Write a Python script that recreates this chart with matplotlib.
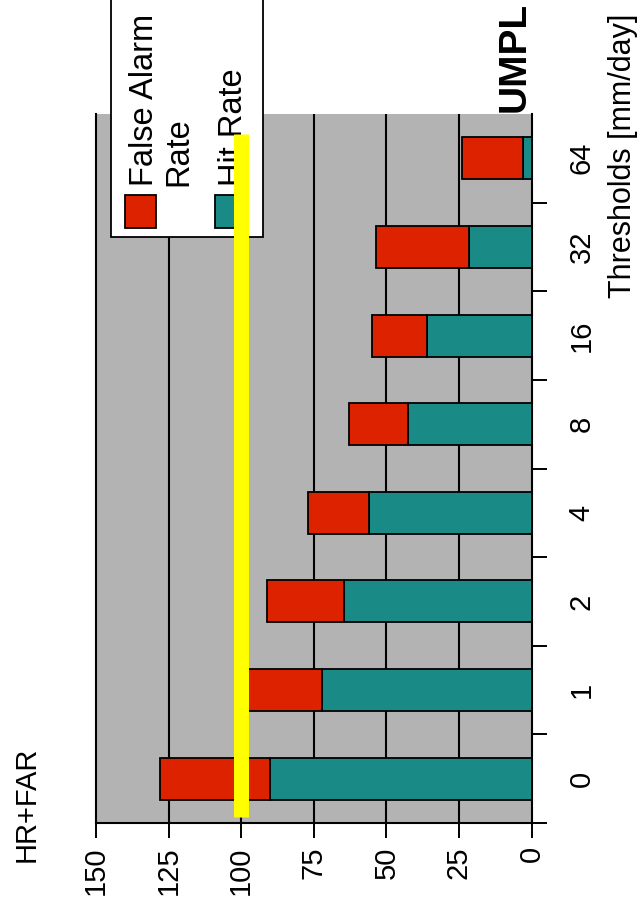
import matplotlib
matplotlib.use("Agg")
import matplotlib.pyplot as plt
from matplotlib.patches import Rectangle
import numpy as np

# Precipitation thresholds and skill scores (percent)
thresholds = ["0", "1", "2", "4", "8", "16", "32", "64"]
hit_rate = [90, 72, 64.5, 56, 42.5, 36, 21.5, 3]
false_alarm_rate = [38, 26, 26.5, 21, 20.5, 19, 32, 21]
reference_level = 100

value_ticks = [0, 25, 50, 75, 100, 125, 150]

RED = "#DD2200"
TEAL = "#1A8A87"
GREY = "#B3B3B3"
FONT = "Liberation Sans"

plt.rcParams["font.family"] = [FONT, "DejaVu Sans"]

fig = plt.figure(figsize=(6.43, 9.17), dpi=100)
ax = fig.add_axes([96 / 643, 1 - 823 / 917, 435.5 / 643, 709 / 917])
ax.set_facecolor(GREY)

pos = np.arange(len(thresholds))
bar_h = 0.475
ax.barh(pos, hit_rate, height=bar_h, color=TEAL, edgecolor="black",
        linewidth=1.3, zorder=3)
ax.barh(pos, false_alarm_rate, left=hit_rate, height=bar_h, color=RED,
        edgecolor="black", linewidth=1.3, zorder=3)

ax.set_xlim(150, 0)
ax.set_ylim(-0.5, len(thresholds) - 0.5)

# value axis along the bottom, labels turned upright
ax.set_xticks(value_ticks)
ax.set_xticklabels([str(v) for v in value_ticks], rotation=90, fontsize=21)
ax.tick_params(axis="x", direction="out", length=10.8, width=1.4, pad=6)
for v in value_ticks[1:-1]:
    ax.axvline(v, color="black", linewidth=1.5, zorder=1)

# threshold axis on the right, boundary ticks between categories
ax.yaxis.tick_right()
ax.set_yticks(pos)
ax.set_yticklabels(thresholds, rotation=90, fontsize=21, va="center")
ax.set_yticks(np.arange(-0.5, len(thresholds) - 1, 1.0), minor=True)
ax.tick_params(axis="y", which="major", length=0, pad=26)
ax.tick_params(axis="y", which="minor", direction="out", length=10.8, width=1.4)

for side in ["left", "right", "bottom"]:
    ax.spines[side].set_linewidth(1.5)
    ax.spines[side].set_color("black")
ax.spines["top"].set_visible(False)

def to_ax(px, py):
    return (px - 96) / 435.5, (823 - py) / 709

# legend box drawn above the plot
x0, y0 = to_ax(111, 237)
x1, y1 = to_ax(262.7, -2)
ax.add_patch(Rectangle((x0, y0), x1 - x0, y1 - y0, transform=ax.transAxes,
                       facecolor="white", edgecolor="black", linewidth=1.3,
                       clip_on=False, zorder=5))
for (hx, col) in [(125, RED), (215, TEAL)]:
    a, b = to_ax(hx, 228)
    c, d = to_ax(hx + 31, 195)
    ax.add_patch(Rectangle((a, b), c - a, d - b, transform=ax.transAxes,
                           facecolor=col, edgecolor="black", linewidth=1.3,
                           clip_on=False, zorder=6))
tx, ty = to_ax(162, 186)
ax.text(tx, ty, "False Alarm\nRate", transform=ax.transAxes, rotation=90,
        ha="center", va="bottom", multialignment="left", fontsize=23.5,
        linespacing=1.15, zorder=6, clip_on=False)
tx, ty = to_ax(233, 186)
ax.text(tx, ty, "Hit Rate", transform=ax.transAxes, rotation=90,
        ha="center", va="bottom", fontsize=23.5, zorder=6, clip_on=False)

# reference level marker
ya = -0.5 + 6 / 88.6
yb = len(thresholds) - 0.5 - 20 / 88.6
ax.plot([reference_level, reference_level], [ya, yb], color="yellow",
        linewidth=10.8, solid_capstyle="butt", zorder=8, clip_on=False)

# axis titles
fig.text(27 / 643, 1 - 862 / 917, "HR+FAR", rotation=90, ha="center",
         va="bottom", fontsize=21)
fig.text(623 / 643, 1 - 14 / 917, "Thresholds [mm/day]", rotation=90,
         ha="center", va="top", fontsize=22)
fig.text(515 / 643, 1 - 2 / 917, "UMPL", rotation=90, ha="center",
         va="top", fontsize=28, fontweight="bold")

fig.savefig("out.png", dpi=100)
